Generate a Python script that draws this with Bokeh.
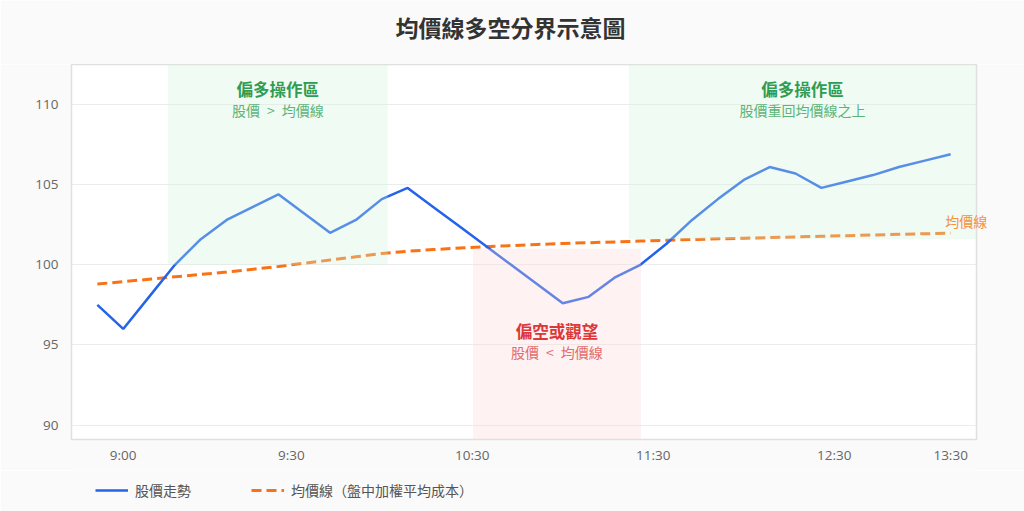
from bokeh.plotting import figure
from bokeh.layouts import column
from bokeh.models import Range1d, FixedTicker, Legend, LegendItem, Label, ColumnDataSource
from bokeh.embed import file_html
from bokeh.resources import INLINE

# ---- data -------------------------------------------------------------
steps = list(range(34))  # intraday sampling index
price = [97.5, 96.0, 98.0, 100.0, 101.6, 102.8, 103.6, 104.4, 103.2, 102.0,
         102.8, 104.1, 104.8, 103.6, 102.4, 101.2, 100.0, 98.8, 97.6, 98.0,
         99.2, 100.0, 101.3, 102.8, 104.1, 105.3, 106.1, 105.7, 104.8, 105.2,
         105.6, 106.1, 106.5, 106.9]
vwap = [98.8, 98.95, 99.1, 99.25, 99.4, 99.55, 99.72, 99.9, 100.1, 100.3,
        100.5, 100.7, 100.85, 100.95, 101.05, 101.12, 101.2, 101.27, 101.33, 101.38,
        101.43, 101.48, 101.53, 101.58, 101.62, 101.66, 101.7, 101.74, 101.78, 101.82,
        101.86, 101.9, 101.94, 101.97]

x_ticks = [1, 7.5, 14.5, 21.5, 28.5, 33]
x_tick_labels = ["9:00", "9:30", "10:30", "11:30", "12:30", "13:30"]
y_ticks = [90, 95, 100, 105, 110]

X_MIN, X_MAX = -1, 34
Y_MIN, Y_MAX = 89.1, 112.5

# shaded regions: long bias / short bias / long bias again
zone_left = [2.73, 14.53, 20.55]
zone_right = [11.23, 21.02, 34]
zone_bottom = [100.0, Y_MIN, 101.6]
zone_top = [Y_MAX, 101.0, Y_MAX]
zone_fill = ["#cdf3d9", "#fbd3d6", "#cdf3d9"]
zone_title = ["偏多操作區", "偏空或觀望", "偏多操作區"]
zone_note = ["股價\u2002>\u2002均價線", "股價\u2002<\u2002均價線", "股價重回均價線之上"]
zone_title_color = ["#2e9d52", "#dc3838", "#2e9d52"]
zone_note_color = ["#5cb47a", "#e36b6b", "#5cb47a"]
zone_text_y = [(110.97, 109.63), (95.9, 94.58), (110.97, 109.63)]

CJK = "Noto Sans CJK TC"
PAGE_BG = "#fafafa"
PRICE_COLOR = "#2563eb"
VWAP_COLOR = "#f97316"
LEFT, RIGHT = 71, 48

src = ColumnDataSource(dict(step=steps, price=price, vwap=vwap))


def strip(height):
    """A bare full-width band sharing the page background."""
    f = figure(width=1024, height=height, output_backend="svg",
               toolbar_location=None, x_axis_type=None, y_axis_type=None,
               x_range=Range1d(0, 1), y_range=Range1d(0, 1), title=None,
               min_border_left=LEFT, min_border_right=RIGHT,
               min_border_top=0, min_border_bottom=0)
    f.background_fill_color = PAGE_BG
    f.border_fill_color = PAGE_BG
    f.outline_line_color = None
    return f


# ---- title band -------------------------------------------------------
head = strip(64)
head.add_layout(Label(x=0.485, y=0.58, text="均價線多空分界示意圖",
                      text_align="center", text_baseline="middle",
                      text_font=CJK, text_font_size="23px",
                      text_font_style="bold", text_color="#333333"))

# ---- main chart -------------------------------------------------------
p = figure(width=1024, height=406, output_backend="svg", toolbar_location=None,
           x_range=Range1d(X_MIN, X_MAX), y_range=Range1d(Y_MIN, Y_MAX),
           title=None, min_border_left=LEFT, min_border_right=RIGHT,
           min_border_top=0, min_border_bottom=31)
p.background_fill_color = "white"
p.border_fill_color = PAGE_BG
p.outline_line_color = "#e0e0e0"
p.outline_line_width = 1.5

for ax in (p.xaxis, p.yaxis):
    ax.axis_line_color = None
    ax.major_tick_line_color = None
    ax.minor_tick_line_color = None
    ax.major_label_text_color = "#666666"
    ax.major_label_text_font_size = "13.5px"
    ax.major_label_text_font = "Open Sans"

p.yaxis.ticker = FixedTicker(ticks=y_ticks)
p.yaxis.major_label_standoff = 7
p.xaxis.ticker = FixedTicker(ticks=x_ticks)
p.xaxis.major_label_overrides = {t: s for t, s in zip(x_ticks, x_tick_labels)}
p.xaxis.major_label_standoff = 0

p.xgrid.visible = False
p.ygrid.ticker = FixedTicker(ticks=y_ticks)
p.ygrid.grid_line_color = "#ececec"

p.line("step", "vwap", source=src, line_color=VWAP_COLOR,
       line_width=3, line_dash="10 5")
p.line("step", "price", source=src, line_color=PRICE_COLOR, line_width=2.5)

# translucent zones drawn over the lines
zsrc = ColumnDataSource(dict(left=zone_left, right=zone_right,
                             bottom=zone_bottom, top=zone_top, fill=zone_fill))
p.quad(left="left", right="right", bottom="bottom", top="top", source=zsrc,
       fill_color="fill", fill_alpha=0.3, line_color=None)

for i in range(len(zone_left)):
    cx = (zone_left[i] + zone_right[i]) / 2
    ty, ny = zone_text_y[i]
    p.add_layout(Label(x=cx, y=ty, text=zone_title[i], text_align="center",
                       text_baseline="middle", text_font=CJK,
                       text_font_size="16.5px", text_font_style="bold",
                       text_color=zone_title_color[i]))
    p.add_layout(Label(x=cx, y=ny, text=zone_note[i], text_align="center",
                       text_baseline="middle", text_font=CJK,
                       text_font_size="14px", text_color=zone_note_color[i]))

# end-of-line tag for the average price line, overhanging the frame edge
p.add_layout(Label(x=steps[-1] + 0.6, y=vwap[-1] + 0.75, text="均價線",
                   text_align="center", text_baseline="middle", text_font=CJK,
                   text_font_size="14px", text_color="#f5913f"), "right")

# ---- legend band ------------------------------------------------------
lg = strip(41)
# same series, styled alike; they fall outside this band's 0..1 ranges
k_price = lg.line("step", "price", source=src, line_color=PRICE_COLOR, line_width=2.5)
k_vwap = lg.line("step", "vwap", source=src, line_color=VWAP_COLOR,
                 line_width=3, line_dash="10 5")
legend = Legend(items=[LegendItem(label="股價走勢", renderers=[k_price]),
                       LegendItem(label="均價線（盤中加權平均成本）", renderers=[k_vwap])],
                orientation="horizontal", location=(24, 11),
                background_fill_alpha=0, border_line_color=None,
                padding=0, margin=0, spacing=60, label_standoff=7,
                glyph_width=33, glyph_height=20, label_height=20,
                label_text_font=CJK, label_text_font_size="14px",
                label_text_color="#555555")
lg.add_layout(legend)

page = column(head, p, lg, spacing=0)
open("out.html", "w").write(file_html(page, INLINE))
